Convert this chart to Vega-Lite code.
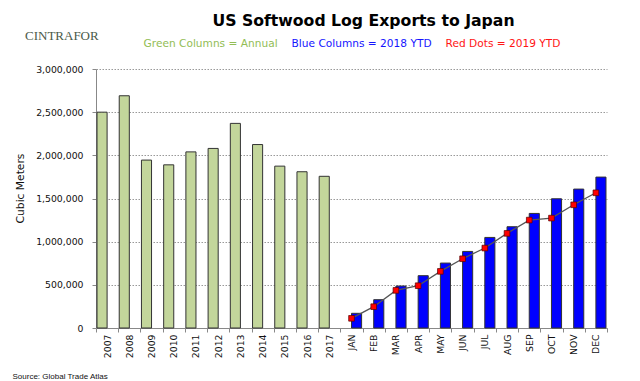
{
  "$schema": "https://vega.github.io/schema/vega-lite/v6.json",
  "width": 511,
  "height": 259,
  "autosize": {"type": "none"},
  "padding": {"left": 96, "top": 69, "right": 33, "bottom": 53},
  "background": "white",
  "title": {
    "text": "US Softwood Log Exports to Japan",
    "font": "DejaVu Sans",
    "fontSize": 15.7,
    "fontWeight": "bold",
    "color": "#000000",
    "anchor": "middle",
    "frame": "group",
    "dx": 12,
    "offset": 9
  },
  "data": {
    "values": [
      {"cat": "2007", "series": "Green Columns = Annual", "value": 2500000},
      {"cat": "2008", "series": "Green Columns = Annual", "value": 2690000},
      {"cat": "2009", "series": "Green Columns = Annual", "value": 1945000},
      {"cat": "2010", "series": "Green Columns = Annual", "value": 1890000},
      {"cat": "2011", "series": "Green Columns = Annual", "value": 2040000},
      {"cat": "2012", "series": "Green Columns = Annual", "value": 2080000},
      {"cat": "2013", "series": "Green Columns = Annual", "value": 2370000},
      {"cat": "2014", "series": "Green Columns = Annual", "value": 2125000},
      {"cat": "2015", "series": "Green Columns = Annual", "value": 1875000},
      {"cat": "2016", "series": "Green Columns = Annual", "value": 1810000},
      {"cat": "2017", "series": "Green Columns = Annual", "value": 1757000},
      {"cat": "JAN", "series": "Blue Columns = 2018 YTD", "value": 170000},
      {"cat": "FEB", "series": "Blue Columns = 2018 YTD", "value": 328000},
      {"cat": "MAR", "series": "Blue Columns = 2018 YTD", "value": 486000},
      {"cat": "APR", "series": "Blue Columns = 2018 YTD", "value": 606000},
      {"cat": "MAY", "series": "Blue Columns = 2018 YTD", "value": 752000},
      {"cat": "JUN", "series": "Blue Columns = 2018 YTD", "value": 887000},
      {"cat": "JUL", "series": "Blue Columns = 2018 YTD", "value": 1049000},
      {"cat": "AUG", "series": "Blue Columns = 2018 YTD", "value": 1173000},
      {"cat": "SEP", "series": "Blue Columns = 2018 YTD", "value": 1327000},
      {"cat": "OCT", "series": "Blue Columns = 2018 YTD", "value": 1497000},
      {"cat": "NOV", "series": "Blue Columns = 2018 YTD", "value": 1609000},
      {"cat": "DEC", "series": "Blue Columns = 2018 YTD", "value": 1748000},
      {"cat": "JAN", "series": "Red Dots = 2019 YTD", "value": 112000},
      {"cat": "FEB", "series": "Red Dots = 2019 YTD", "value": 247000},
      {"cat": "MAR", "series": "Red Dots = 2019 YTD", "value": 436000},
      {"cat": "APR", "series": "Red Dots = 2019 YTD", "value": 490000},
      {"cat": "MAY", "series": "Red Dots = 2019 YTD", "value": 656000},
      {"cat": "JUN", "series": "Red Dots = 2019 YTD", "value": 802000},
      {"cat": "JUL", "series": "Red Dots = 2019 YTD", "value": 926000},
      {"cat": "AUG", "series": "Red Dots = 2019 YTD", "value": 1096000},
      {"cat": "SEP", "series": "Red Dots = 2019 YTD", "value": 1250000},
      {"cat": "OCT", "series": "Red Dots = 2019 YTD", "value": 1273000},
      {"cat": "NOV", "series": "Red Dots = 2019 YTD", "value": 1427000},
      {"cat": "DEC", "series": "Red Dots = 2019 YTD", "value": 1566000}
    ]
  },
  "layer": [
    {
      "transform": [{"filter": "datum.series !== 'Red Dots = 2019 YTD'"}],
      "mark": {"type": "bar", "stroke": "#333333", "strokeWidth": 1},
      "encoding": {
        "x": {
          "field": "cat",
          "type": "nominal",
          "scale": {
            "domain": ["2007","2008","2009","2010","2011","2012","2013","2014","2015","2016","2017","JAN","FEB","MAR","APR","MAY","JUN","JUL","AUG","SEP","OCT","NOV","DEC"],
            "paddingInner": 0,
            "paddingOuter": 0
          },
          "axis": {
            "title": "Source: Global Trade Atlas",
            "labelAngle": -90,
            "labelFont": "DejaVu Sans",
            "labelFontSize": 9.3,
            "labelColor": "#111111",
            "tickBand": "extent",
            "tickColor": "#888888",
            "tickSize": 4,
            "domainColor": "#888888",
            "labelPadding": 2,
            "titleFont": "Liberation Sans",
            "titleFontSize": 8,
            "titleFontWeight": "normal",
            "titleColor": "#111111",
            "titleAnchor": "start",
            "titleAlign": "left",
            "titleAngle": 0,
            "titleX": -84,
            "titleY": 52,
            "titleBaseline": "bottom",
            "grid": false
          }
        },
        "xOffset": {
          "field": "series",
          "type": "nominal",
          "scale": {
            "domain": ["Green Columns = Annual", "Blue Columns = 2018 YTD"],
            "paddingInner": 0,
            "paddingOuter": 0.1
          }
        },
        "y": {
          "field": "value",
          "type": "quantitative",
          "scale": {"domain": [0, 3000000], "nice": false},
          "axis": {
            "title": "Cubic Meters",
            "values": [0, 500000, 1000000, 1500000, 2000000, 2500000, 3000000],
            "format": ",.0f",
            "labelFont": "DejaVu Sans",
            "labelFontSize": 9.3,
            "labelColor": "#111111",
            "labelPadding": 9,
            "tickColor": "#888888",
            "tickSize": 4,
            "domainColor": "#888888",
            "grid": true,
            "gridColor": "#999999",
            "gridDash": [1.5, 1.5],
            "titleFont": "DejaVu Sans",
            "titleFontSize": 10.7,
            "titleFontWeight": "normal",
            "titleColor": "#111111",
            "titleAngle": -90,
            "titleX": -76,
            "titleY": 119,
            "titleAlign": "center",
            "titleBaseline": "middle"
          }
        },
        "color": {
          "field": "series",
          "type": "nominal",
          "scale": {
            "domain": ["Green Columns = Annual", "Blue Columns = 2018 YTD", "Red Dots = 2019 YTD"],
            "range": ["#c3d69b", "#0000ff", "#ff0000"]
          },
          "legend": {
            "orient": "none",
            "legendX": -71,
            "legendY": -30,
            "direction": "horizontal",
            "title": ["CINTRAFOR", " "],
            "titleOrient": "left",
            "titleFont": "Liberation Serif",
            "titleFontSize": 13,
            "titleLineHeight": 17,
            "titleFontWeight": "normal",
            "titleColor": "#4a5a4a",
            "titlePadding": 45,
            "symbolSize": 0.01,
            "symbolOpacity": 0,
            "symbolStrokeWidth": 0,
            "labelOffset": -11,
            "labelFont": "DejaVu Sans",
            "labelFontSize": 10.6,
            "labelLimit": 300,
            "columnPadding": 13,
            "labelColor": {"expr": "datum.value === 'Green Columns = Annual' ? '#92bd55' : datum.value === 'Blue Columns = 2018 YTD' ? '#1515ff' : '#ff1515'"}
          }
        }
      }
    },
    {
      "transform": [{"filter": "datum.series === 'Red Dots = 2019 YTD'"}],
      "mark": {"type": "line", "color": "#555555", "strokeWidth": 1.3},
      "encoding": {
        "x": {"field": "cat", "type": "nominal"},
        "y": {"field": "value", "type": "quantitative"}
      }
    },
    {
      "transform": [{"filter": "datum.series === 'Red Dots = 2019 YTD'"}],
      "mark": {"type": "point", "shape": "square", "filled": true, "size": 32, "stroke": "#550000", "strokeWidth": 0.7, "opacity": 1},
      "encoding": {
        "x": {"field": "cat", "type": "nominal"},
        "y": {"field": "value", "type": "quantitative"},
        "color": {"field": "series", "type": "nominal"}
      }
    }
  ],
  "config": {
    "view": {"stroke": null},
    "axis": {"domainWidth": 1}
  }
}
